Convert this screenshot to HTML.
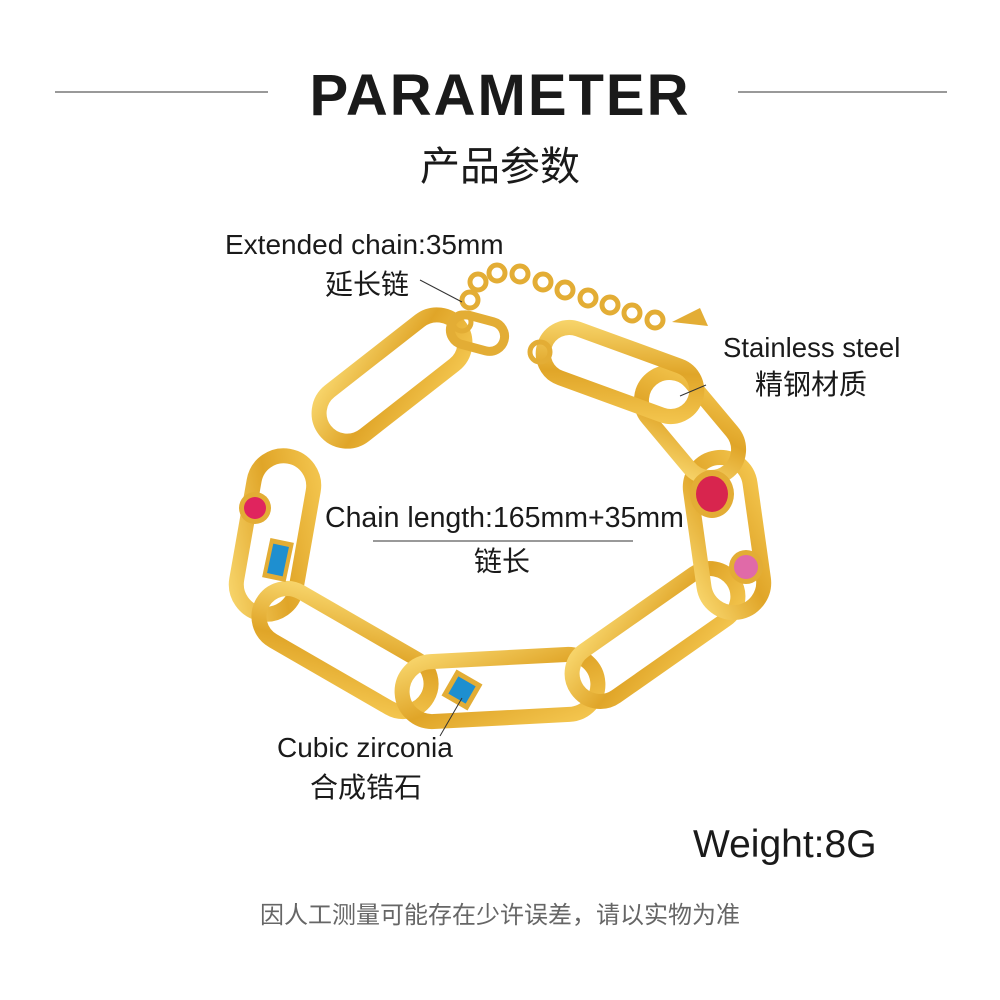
<!DOCTYPE html>
<html><head><meta charset="utf-8"><style>
html,body{margin:0;padding:0;background:#fff;}
#c{position:relative;width:1000px;height:1000px;overflow:hidden;font-family:"Liberation Sans","Noto Sans CJK SC",sans-serif;color:#1a1a1a;}
.t{position:absolute;white-space:nowrap;}
</style></head><body><div id="c">
<svg width="1000" height="1000" style="position:absolute;left:0;top:0">
<defs>
<linearGradient id="g" x1="0" y1="0" x2="1" y2="1">
<stop offset="0" stop-color="#f7d46a"/><stop offset="0.5" stop-color="#e0a528"/><stop offset="1" stop-color="#f3c54e"/>
</linearGradient>
</defs>
<line x1="55" y1="92" x2="268" y2="92" stroke="#333" stroke-width="1"/>
<line x1="738" y1="92" x2="947" y2="92" stroke="#333" stroke-width="1"/>
<g fill="none" stroke="url(#g)" stroke-width="15">
<rect x="-85" y="-28" width="170" height="56" rx="28" transform="translate(392,378) rotate(-38)"/>
<rect x="-80" y="-30" width="160" height="60" rx="30" transform="translate(275,535) rotate(-80)"/>
<rect x="-95" y="-28" width="190" height="56" rx="28" transform="translate(345,650) rotate(30)"/>
<rect x="-98" y="-30" width="196" height="60" rx="30" transform="translate(500,688) rotate(-3)"/>
<rect x="-95" y="-28" width="190" height="56" rx="28" transform="translate(655,635) rotate(-35)"/>
<rect x="-78" y="-30" width="156" height="60" rx="30" transform="translate(727,535) rotate(-98)"/>
<rect x="-60" y="-28" width="120" height="56" rx="28" transform="translate(690,425) rotate(-130)"/>
<rect x="-80" y="-26" width="160" height="52" rx="26" transform="translate(620,372) rotate(20)"/>
</g>
<g fill="none" stroke="#e3ad35" stroke-width="5">
<circle cx="462" cy="322" r="9"/><circle cx="470" cy="300" r="8"/><circle cx="478" cy="282" r="8"/>
<circle cx="497" cy="273" r="8"/><circle cx="520" cy="274" r="8"/><circle cx="543" cy="282" r="8"/>
<circle cx="565" cy="290" r="8"/><circle cx="588" cy="298" r="8"/><circle cx="610" cy="305" r="8"/>
<circle cx="632" cy="313" r="8"/><circle cx="655" cy="320" r="8"/><circle cx="540" cy="352" r="10"/>
</g>
<rect x="450" y="318" width="55" height="30" rx="15" fill="none" stroke="#e3ad35" stroke-width="9" transform="rotate(15 477 333)"/>
<path d="M672 322 L700 308 L708 326 Z" fill="#e3ad35"/>
<circle cx="255" cy="508" r="16" fill="#e3ad35"/><circle cx="255" cy="508" r="11" fill="#e0245e"/>
<rect x="266" y="540" width="24" height="40" fill="#e3ad35" transform="rotate(12 278 560)"/>
<rect x="270" y="545" width="16" height="30" fill="#1e8fd0" transform="rotate(12 278 560)"/>
<rect x="447" y="675" width="30" height="30" fill="#e3ad35" transform="rotate(30 462 690)"/>
<rect x="452" y="680" width="20" height="20" fill="#1e8fd0" transform="rotate(30 462 690)"/>
<ellipse cx="712" cy="494" rx="22" ry="24" fill="#e3ad35"/><ellipse cx="712" cy="494" rx="16" ry="18" fill="#d8254e"/>
<circle cx="746" cy="567" r="17" fill="#e3ad35"/><circle cx="746" cy="567" r="12" fill="#e06aa8"/>
<line x1="420" y1="280" x2="462" y2="302" stroke="#333" stroke-width="1"/>
<line x1="706" y1="385" x2="680" y2="396" stroke="#333" stroke-width="1"/>
<line x1="373" y1="541" x2="633" y2="541" stroke="#333" stroke-width="1"/>
<line x1="440" y1="736" x2="462" y2="698" stroke="#333" stroke-width="1"/>
</svg>
<div class="t" style="left:0;width:1000px;text-align:center;top:62px;font-size:58px;font-weight:bold;letter-spacing:2px;">PARAMETER</div>
<div class="t" style="left:0;width:1000px;text-align:center;top:134px;font-size:40px;">产品参数</div>
<div class="t" style="left:225px;top:229px;font-size:28px;">Extended chain:35mm</div>
<div class="t" style="left:325px;top:263px;font-size:28px;">延长链</div>
<div class="t" style="left:723px;top:332px;font-size:27.5px;">Stainless steel</div>
<div class="t" style="left:755px;top:363px;font-size:28px;">精钢材质</div>
<div class="t" style="left:325px;top:502px;font-size:28.5px;">Chain length:165mm+35mm</div>
<div class="t" style="left:474px;top:540px;font-size:28px;">链长</div>
<div class="t" style="left:277px;top:732px;font-size:28px;">Cubic zirconia</div>
<div class="t" style="left:310px;top:766px;font-size:28px;">合成锆石</div>
<div class="t" style="left:693px;top:823px;font-size:39px;">Weight:8G</div>
<div class="t" style="left:0;width:1000px;text-align:center;top:895px;font-size:24px;color:#666;">因人工测量可能存在少许误差，请以实物为准</div>
</div></body></html>
